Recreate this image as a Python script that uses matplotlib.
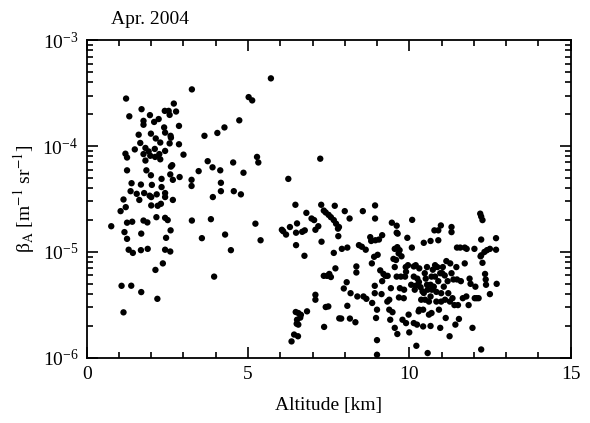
import matplotlib
matplotlib.use('Agg')
import matplotlib.pyplot as plt
from matplotlib.ticker import LogLocator, MultipleLocator

# altitude [km] and backscatter coefficient
alt = [
    0.76, 1.05, 1.14, 1.22, 1.32, 1.20, 1.25, 1.25, 1.21, 1.25, 1.17, 1.25, 1.30, 1.08, 1.14,
    1.38, 1.39, 1.36, 1.41, 1.43, 1.49, 1.55, 1.61, 1.63, 1.66, 1.70, 1.68, 1.69, 1.68, 1.69,
    1.76, 1.76, 1.82, 1.76, 1.82, 1.85, 1.78, 1.76, 1.88, 1.89, 1.96, 1.99, 1.97, 1.92, 1.99,
    1.95, 2.00, 2.02, 2.00, 2.11, 2.12, 2.09, 2.14, 2.17, 2.13, 2.19, 2.16, 2.20, 2.23, 2.25,
    2.28, 2.28, 2.32, 2.32, 2.30, 2.36, 2.40, 2.42, 2.43, 2.43, 2.43, 2.43, 2.43, 2.43, 2.46,
    2.51, 2.54, 2.57, 2.57, 2.60, 2.61, 2.61, 2.59, 2.60, 2.59, 2.65, 2.67, 2.67, 2.70, 2.77,
    2.86, 2.86, 2.88, 3.00,
    3.26, 3.25, 3.25, 3.26, 3.47, 3.57, 3.65, 3.75, 3.85, 3.90, 3.91, 3.95, 4.05, 4.14, 4.16,
    4.16, 4.27, 4.29, 4.47, 4.54, 4.56, 4.73, 4.78, 4.86, 5.02, 5.13, 5.28, 5.32, 5.23, 5.39,
    5.71, 6.25,
    6.05, 6.09, 6.18, 6.30, 6.47, 6.52, 6.49, 6.49, 6.35, 6.43, 6.55, 6.48, 6.56, 6.52, 6.51,
    6.56, 6.62, 6.64, 6.83, 6.75, 6.81, 6.68, 6.76, 6.97, 7.05, 7.09, 7.18, 7.24, 7.27, 7.28,
    7.35, 7.41, 7.50, 7.57, 7.69, 7.66, 7.73, 7.79, 7.80, 7.82, 7.35, 7.45, 7.52, 7.57, 7.41,
    7.49, 7.36, 7.09, 7.09, 7.66, 7.71, 7.83, 7.89, 8.00, 8.15, 8.08, 7.91, 7.97, 8.06, 8.08,
    8.18, 8.16, 8.33, 8.36, 8.36, 8.39, 8.44, 8.53, 8.56, 8.58, 8.67, 8.65, 8.79, 8.84, 8.85,
    8.82, 8.91, 8.94, 8.94, 8.95, 8.93, 8.93, 8.97, 9.00, 9.00, 9.00, 9.02, 9.06, 9.16, 9.10,
    9.20, 9.16, 9.14, 9.26, 9.33, 9.38, 9.41, 9.38, 9.43, 9.48, 9.46, 9.51, 9.55, 9.59, 9.61,
    9.61, 9.61, 9.63, 9.55, 9.63, 9.67, 9.70, 9.76, 9.68, 9.71, 9.74, 9.79, 9.83, 9.84, 9.87,
    9.89, 9.90, 9.94, 9.96, 10.00, 9.98, 10.06, 10.08, 10.09, 10.14, 10.14, 10.14, 10.17, 10.20, 10.22,
    10.24, 10.25, 10.29, 10.31, 10.31, 10.37, 10.35, 10.43, 10.43, 10.45, 10.45, 10.48, 10.49, 10.51, 10.55,
    10.57, 10.57, 10.61, 10.61, 10.66, 10.66, 10.66, 10.66, 10.69, 10.69, 10.73, 10.76, 10.78, 10.80, 10.80,
    10.84, 10.84, 10.87, 10.90, 10.90, 10.90, 10.92, 10.96, 10.96, 10.98, 10.99, 10.99, 11.02, 11.04, 11.07,
    11.11, 11.13, 11.15, 11.19, 11.21, 11.25, 11.26, 11.27, 11.31, 11.31, 11.31, 11.34, 11.37, 11.40, 11.43,
    11.46, 11.48, 11.48, 11.51, 11.54, 11.58, 11.60, 11.66, 11.72, 11.72, 11.77, 11.78, 11.84, 11.87, 11.90,
    11.96, 12.02, 12.03, 12.05, 12.09, 12.15, 12.20, 12.23, 12.23, 12.21, 12.23, 12.23, 12.27, 12.27, 12.33,
    12.35, 12.37, 12.38, 12.41, 12.50, 12.50, 12.69, 12.69, 12.71,
    9.64, 10.20, 10.41, 10.55, 9.32, 9.55, 10.70, 11.10, 10.30, 9.90,
]
beta = [
    1.75e-5, 2.43e-5, 3.13e-5, 2.81e-4, 1.91e-4, 8.47e-5, 7.8e-5, 5.9e-5, 2.65e-5, 1.89e-5, 1.54e-5, 1.33e-5, 1.05e-5, 4.79e-6, 2.69e-6,
    4.8e-6, 4.46e-5, 3.75e-5, 1.93e-5, 9.8e-6, 9.3e-5, 3.54e-5, 1.28e-4, 3.1e-5, 1.07e-4, 2.23e-4, 4.33e-5, 1.49e-5, 1.04e-5, 4.18e-6,
    1.73e-4, 1.59e-4, 9.6e-5, 8.4e-5, 7.3e-5, 5.9e-5, 3.6e-5, 1.98e-5, 1.9e-5, 1.07e-5, 1.96e-4, 1.31e-4, 8.1e-5, 8.9e-5, 5.3e-5,
    3.4e-5, 3.3e-5, 4.3e-5, 2.75e-5, 9.4e-5, 7.9e-5, 1.69e-4, 1.18e-4, 3.5e-5, 6.77e-6, 3.61e-6, 2.13e-5, 2.73e-5, 1.8e-4, 8.4e-5,
    7.5e-5, 1.08e-4, 4.9e-5, 4.1e-5, 2.85e-5, 7.8e-6, 1.5e-4, 2.15e-4, 1.34e-4, 9.0e-5, 3.6e-5, 3.3e-5, 2.1e-5, 1.05e-5, 1.36e-5,
    2.0e-5, 2.15e-4, 1.97e-4, 1.06e-4, 1.25e-4, 1.2e-4, 6.4e-5, 5.4e-5, 1.6e-5, 1.01e-5, 6.6e-5, 4.8e-5, 3.1e-5, 2.52e-4, 2.12e-4,
    1.04e-4, 1.55e-4, 5.1e-5, 8.3e-5,
    3.43e-4, 4.8e-5, 4.2e-5, 1.98e-5, 5.8e-5, 1.35e-5, 1.25e-4, 7.2e-5, 2.04e-5, 6.3e-5, 3.3e-5, 5.85e-6, 1.33e-4, 5.9e-5, 4.5e-5,
    3.75e-5, 1.5e-4, 1.46e-5, 1.04e-5, 7.0e-5, 3.75e-5, 1.75e-4, 3.5e-5, 5.6e-5, 2.9e-4, 2.7e-4, 7.9e-5, 7.0e-5, 1.85e-5, 1.29e-5,
    4.36e-4, 4.9e-5,
    1.62e-5, 1.57e-5, 1.46e-5, 1.72e-5, 2.79e-5, 1.86e-5, 1.52e-5, 1.16e-5, 1.43e-6, 1.66e-6, 1.6e-6, 2.71e-6, 2.65e-6, 2.29e-6, 2.1e-6,
    2.06e-6, 2.4e-6, 2.55e-6, 2.75e-6, 9.2e-6, 2.34e-5, 1.55e-5, 1.6e-5, 2.07e-5, 2.0e-5, 1.62e-5, 1.75e-5, 7.6e-5, 2.79e-5, 1.25e-5,
    2.46e-5, 2.36e-5, 2.24e-5, 2.13e-5, 2.73e-5, 2.0e-5, 1.85e-5, 1.66e-5, 1.41e-5, 1.72e-5, 5.95e-6, 5.95e-6, 6.2e-6, 5.8e-6, 3.02e-6,
    3.06e-6, 1.96e-6, 3.94e-6, 3.54e-6, 9.8e-6, 7.0e-6, 2.36e-6, 2.35e-6, 2.43e-5, 2.07e-5, 1.1e-5, 1.07e-5, 4.52e-6, 5.18e-6, 3.1e-6,
    4.08e-6, 2.35e-6, 2.17e-6, 7.3e-6, 6.4e-6, 3.8e-6, 1.16e-5, 1.12e-5, 2.43e-5, 3.8e-6, 3.61e-6, 1.05e-5, 1.38e-5, 7.8e-6, 3.3e-6,
    1.27e-5, 9.0e-6, 2.75e-5, 2.07e-5, 1.29e-5, 4.79e-6, 4.08e-6, 2.38e-6, 2.85e-6, 1.47e-6, 1.07e-6, 9.4e-6, 1.31e-5, 1.44e-5, 6.7e-6,
    6.2e-6, 5.3e-6, 4.0e-6, 5.95e-6, 5.95e-6, 2.85e-6, 2.29e-6, 3.54e-6, 4.55e-6, 2.7e-6, 1.89e-5, 8.6e-6, 1.07e-5, 8.4e-6, 1.52e-5,
    1.77e-5, 5.85e-6, 1.68e-6, 1.92e-6, 1.11e-5, 9.7e-6, 1.04e-5, 9.1e-6, 3.72e-6, 4.55e-6, 5.85e-6, 2.29e-6, 3.66e-6, 4.4e-6, 5.85e-6,
    7.2e-6, 2.13e-6, 1.36e-5, 7.5e-6, 1.74e-6, 2.56e-6, 4.9e-6, 1.1e-5, 2.01e-5, 2.13e-6, 7.3e-6, 5.85e-6, 4.4e-6, 7.5e-6, 1.3e-6,
    2.06e-6, 5.6e-6, 2.75e-6, 2.85e-6, 7.0e-6, 3.54e-6, 4.65e-6, 1.98e-6, 2.85e-6, 1.22e-5, 4.1e-6, 6.3e-6, 3.54e-6, 5.6e-6, 7.2e-6,
    1.11e-6, 4.4e-6, 3.4e-6, 2.56e-6, 1.27e-5, 4.9e-6, 3.8e-6, 2.0e-6, 5.85e-6, 2.65e-6, 6.8e-6, 4.7e-6, 1.6e-5, 7.5e-6, 5.85e-6,
    4.2e-6, 3.4e-6, 7.2e-6, 1.6e-5, 1.29e-5, 5.3e-6, 2.85e-6, 1.92e-6, 6.3e-6, 1.78e-5, 4.08e-6, 3.4e-6, 6.3e-6, 7.2e-6, 4.7e-6,
    3.54e-6, 2.38e-6, 8.2e-6, 5.3e-6, 4.08e-6, 1.6e-6, 3.4e-6, 7.8e-6, 1.54e-5, 1.72e-5, 6.3e-6, 3.66e-6, 5.5e-6, 3.15e-6, 2.06e-6,
    7.2e-6, 1.1e-5, 5.5e-6, 3.15e-6, 2.33e-6, 1.1e-5, 5.3e-6, 3.66e-6, 7.8e-6, 1.1e-5, 3.8e-6, 1.07e-5, 3.15e-6, 5.6e-6, 5.0e-6,
    1.92e-6, 1.07e-5, 3.66e-6, 4.7e-6, 3.66e-6, 3.66e-6, 2.3e-5, 2.16e-5, 1.2e-6, 9.1e-6, 9.3e-6, 1.31e-5, 2.0e-5, 7.9e-6, 1.0e-5,
    6.2e-6, 5.5e-6, 4.9e-6, 1.04e-5, 4.0e-6, 1.07e-5, 1.35e-5, 1.05e-5, 5.0e-6,
    1.49e-5, 4.8e-6, 4.25e-6, 4.9e-6, 3.4e-6, 7.2e-6, 4.4e-6, 6.0e-6, 5.2e-6, 6.5e-6,
]

plt.rcParams['font.family'] = 'Liberation Serif'
plt.rcParams['mathtext.fontset'] = 'stix'

fig = plt.figure(figsize=(5.9, 4.23), dpi=100)
ax = fig.add_axes([0.147, 0.154, 0.82, 0.751])
ax.scatter(alt, beta, s=21, color='black', edgecolors='none', zorder=3)

ax.set_yscale('log')
ax.set_xlim(0, 15)
ax.set_ylim(1e-6, 1e-3)
ax.xaxis.set_major_locator(MultipleLocator(5))
ax.xaxis.set_minor_locator(MultipleLocator(1))
ax.yaxis.set_major_locator(LogLocator(base=10, numticks=10))
ax.yaxis.set_minor_locator(LogLocator(base=10, subs=range(2, 10), numticks=10))

ax.tick_params(which='both', direction='in', top=True, right=True, labelsize=14, width=1.2)
ax.tick_params(which='major', length=8, pad=6)
ax.tick_params(which='minor', length=4)
for sp in ax.spines.values():
    sp.set_linewidth(1.3)

ax.set_xlabel('Altitude [km]', fontsize=14, labelpad=10)
ax.set_ylabel('β$_\\mathrm{A}$ [m$^{-1}$ sr$^{-1}$]', fontsize=14)
fig.text(0.188, 0.943, 'Apr. 2004', fontsize=14)

plt.savefig('out.png', dpi=100)
